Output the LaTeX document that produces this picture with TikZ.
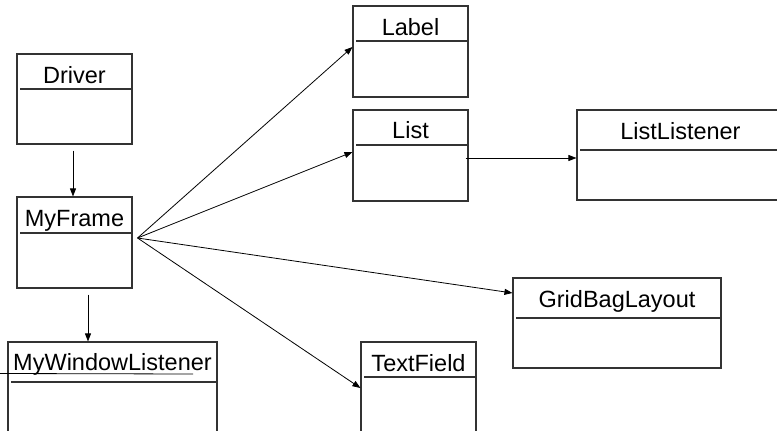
\documentclass[tikz,border=0pt]{standalone}
\usepackage{fontspec}
\setmainfont{Liberation Sans}
\usetikzlibrary{arrows.meta}

\tikzset{
  classbox/.style={draw=black!80, line width=1.1pt, inner sep=0pt},
  classname/.style={anchor=base, inner sep=0pt, font=\fontsize{23.5}{28}\selectfont},
  assoc/.style={-{Triangle[length=8pt,width=6pt]}, line width=0.8pt},
}

\begin{document}
\begin{tikzpicture}[x=1pt, y=-1pt]
    \useasboundingbox (0,0) rectangle (777,431);
    \clip (0,0) rectangle (777,431);

    % class boxes: name/left/top/right/bottom/separator/title centre/baseline/title
    \foreach \n/\xa/\ya/\xb/\yb/\ys/\xt/\yt/\t in {
        driver/17/54/132/144/89/74.5/83/Driver,
        myframe/17/197/132/288/233/74.5/226/MyFrame,
        winlistener/8/342/217/446/382/112.5/370/MyWindowListener,
        label/353/6/468/97/41/410.5/35/Label,
        list/353/110/468/201/145/410.5/138/List,
        listlistener/577/110/830/200/150/680.5/139/ListListener,
        gridbag/513/278/721/368/318/617/307/GridBagLayout,
        textfield/361/342/476/446/377/418.5/371/TextField} {
        \node[classbox, minimum width={\xb-\xa}, minimum height={\yb-\ya}]
            (\n) at ({(\xa+\xb)/2},{(\ya+\yb)/2}) {};
        \draw[classbox] ({\xa+3},\ys) -- (\xb,\ys);
        \node[classname] (\n-title) at (\xt,\yt) {\t};
    }

    \draw[assoc] ([shift={(-1.5pt,-6pt)}]driver.south) -- ([xshift=-1.5pt]myframe.north);
    \draw[assoc] ([shift={(13.5pt,-6pt)}]myframe.south) -- ([xshift=-24.5pt]winlistener.north);

    % all associations of the frame leave from one point
    \coordinate (hub) at ([shift={(5pt,4.5pt)}]myframe.east);
    \draw[assoc] (hub) -- ([yshift=4.5pt]label.west);
    \draw[assoc] (hub) -- ([yshift=3.5pt]list.west);
    \draw[assoc] (hub) -- ([yshift=30pt]gridbag.west);
    \draw[assoc] (hub) -- ([yshift=6pt]textfield.west);

    \draw[assoc] ([shift={(-3pt,-2.5pt)}]list.east) -- ([yshift=-3pt]listlistener.west);

    \coordinate (stray) at (0,373.5);
    \draw[line width=0.8pt] (stray) -- ([shift={(80.5pt,20pt)}]winlistener.center);
\end{tikzpicture}
\end{document}
